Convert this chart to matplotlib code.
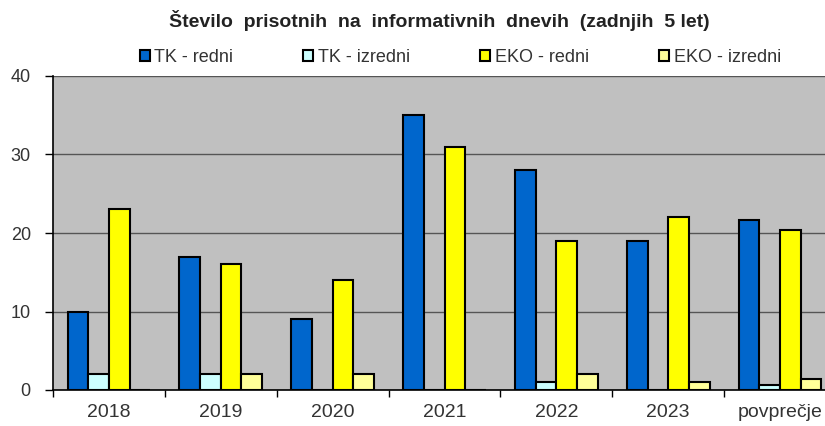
import numpy as np
import matplotlib
matplotlib.use('Agg')
from matplotlib import pyplot as plt

plt.rcParams['font.family'] = ['Liberation Sans', 'DejaVu Sans']

kategorije = ['2018', '2019', '2020', '2021', '2022', '2023', 'povprečje']
tk_redni = [10, 17, 9, 35, 28, 19, 21.6]
tk_izredni = [2, 2, 0, 0, 1, 0, 0.6]
eko_redni = [23, 16, 14, 31, 19, 22, 20.4]
eko_izredni = [0, 2, 2, 0, 2, 1, 1.4]

serije = [('TK - redni', tk_redni, '#0066CC'),
          ('TK - izredni', tk_izredni, '#CCFFFF'),
          ('EKO - redni', eko_redni, '#FFFF00'),
          ('EKO - izredni', eko_izredni, '#FFFF99')]

fig = plt.figure(figsize=(8.25, 4.26), dpi=100)
ax = fig.add_axes([53/825, 36/426, 783/825, 314/426])
ax.set_facecolor('#C0C0C0')

x = np.arange(len(kategorije))
w = 0.185
for k, (ime, vals, barva) in enumerate(serije):
    ax.bar(x + (k - 1.5) * w, vals, w, color=barva, edgecolor='black',
           linewidth=1.5, label=ime, zorder=3)

ax.set_xlim(-0.5, len(kategorije) - 0.5)
ax.set_ylim(0, 40)
ax.set_yticks([0, 10, 20, 30, 40])
ax.yaxis.grid(True, color='#555555', linewidth=1, zorder=1)
ax.set_xticks(x)
ax.set_xticklabels(kategorije, fontsize=14, color='#333333')
ax.set_xticks(np.arange(-0.5, len(kategorije)), minor=True)
ax.tick_params(axis='x', which='major', length=0, pad=10)
ax.tick_params(axis='x', which='minor', length=5, width=1, direction='out')
ax.tick_params(axis='y', length=6, width=1, labelsize=13, labelcolor='#333333', pad=10)
for s in ['top', 'right']:
    ax.spines[s].set_visible(False)
ax.spines['left'].set_linewidth(1.2)
ax.spines['bottom'].set_linewidth(1.2)

fig.text(0.533, 0.953, 'Število  prisotnih  na  informativnih  dnevih  (zadnjih  5 let)',
         ha='center', va='center', fontsize=14, fontweight='bold', color='#222222')

fig.legend(loc='center', bbox_to_anchor=(0.558, 0.866), ncol=4, frameon=False,
           fontsize=13, handlelength=0.55, handleheight=0.55, handletextpad=0.25,
           columnspacing=3.9, labelcolor='#333333')

plt.savefig('out.png')
